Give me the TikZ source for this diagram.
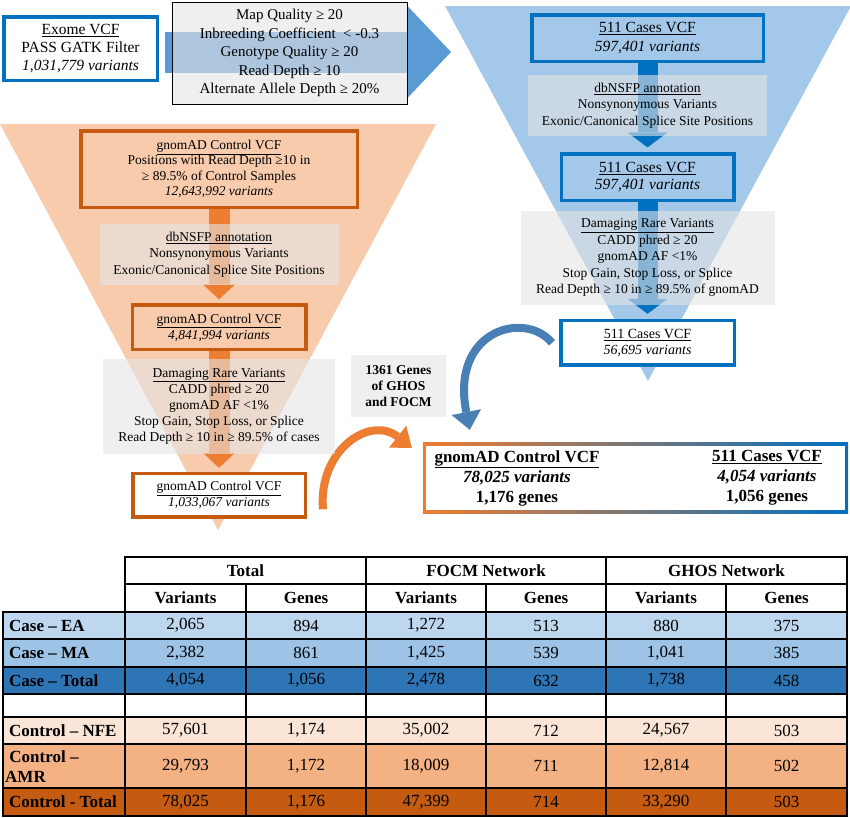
\documentclass[tikz,border=0pt]{standalone}
\usepackage{fontspec}
\setmainfont{Liberation Serif}
\usetikzlibrary{arrows.meta,backgrounds,positioning}
\pgfdeclarelayer{front}
\pgfsetlayers{background,main,front}

\definecolor{casefun}{RGB}{164,200,233}
\definecolor{ctrlfun}{RGB}{248,203,173}
\definecolor{caseline}{RGB}{0,112,192}
\definecolor{ctrlline}{RGB}{197,90,17}
\definecolor{ctrlarrow}{RGB}{237,125,49}
\definecolor{bigblue}{RGB}{91,155,213}
\definecolor{curveblue}{RGB}{72,128,182}
\definecolor{annogray}{RGB}{228,228,228}
\definecolor{midgray}{RGB}{128,122,122}
\definecolor{caseea}{RGB}{189,215,238}
\definecolor{casema}{RGB}{157,195,230}
\definecolor{casetot}{RGB}{46,117,182}
\definecolor{ctrlnfe}{RGB}{251,229,214}
\definecolor{ctrlamr}{RGB}{244,177,131}
\definecolor{ctrltot}{RGB}{197,90,17}

\tikzset{
  casebox/.style={draw=caseline,line width=3.5pt,align=center,inner sep=0pt},
  ctrlbox/.style={draw=ctrlline,line width=3.5pt,align=center,inner sep=0pt},
  annobox/.style={fill=annogray,fill opacity=0.6,text opacity=1,align=center,inner sep=0pt,
    font=\fontsize{13.5}{16.5}\selectfont},
  caseflow/.style={line width=20pt,draw=caseline,
    -{Triangle[length=15pt,width=40pt,line width=0pt]},shorten >=5pt},
  ctrlflow/.style={line width=21pt,draw=ctrlarrow,
    -{Triangle[length=15pt,width=32pt,line width=0pt]},shorten >=4pt},
  cell/.style={font=\fontsize{17}{20}\selectfont},
  headcell/.style={font=\fontsize{17}{20}\selectfont\bfseries},
  rowlbl/.style={anchor=west,align=left,inner sep=0pt,font=\fontsize{17}{20}\selectfont\bfseries},
  grid/.style={line width=1.8pt,line cap=rect}
}

\begin{document}
\begin{tikzpicture}[x=1pt,y=-1pt]
        \useasboundingbox (0,0) rectangle (850,817);
        \begin{scope}[on background layer]
          \fill[casefun] (445,6) -- (851,6) -- (648,381) -- cycle;
          \fill[ctrlfun] (0,124) -- (436,124) -- (218,530) -- cycle;
        \end{scope}

        \node[casebox,fill=white,minimum width=153.5pt,minimum height=63.5pt,
          font=\fontsize{15.5}{18}\selectfont] (exome) at (80.5,48.5)
          {\underline{Exome VCF}\\PASS GATK Filter\\\textit{1,031,779 variants}};
        \begin{pgfonlayer}{front}
        \node[draw=black,line width=0.8pt,fill=annogray,fill opacity=0.6,text opacity=1,
          align=center,minimum width=235pt,minimum height=102pt,inner sep=0pt,
          font=\fontsize{15}{18.5}\selectfont] (filters) at (289.5,53)
          {Map Quality ≥ 20\\Inbreeding Coefficient\ \ < -0.3\\Genotype Quality ≥ 20\\
           Read Depth ≥ 10\\Alternate Allele Depth ≥ 20\%};
        \end{pgfonlayer}
        \coordinate (bigtip) at (451,52);
        \draw[line width=41pt,draw=bigblue,shorten <=6pt,
          -{Triangle[length=44pt,width=93pt,line width=0pt]}] (exome.east |- bigtip) -- (bigtip);

        \node[casebox,minimum width=231.5pt,minimum height=46.5pt,
          font=\fontsize{15.5}{19}\selectfont] (cbox1) at (647.5,38)
          {\underline{511 Cases VCF}\\\textit{597,401 variants}};
        \begin{pgfonlayer}{front}
        \node[annobox,minimum width=239pt,minimum height=61pt,below = 12pt of cbox1] (cann1)
          {\underline{dbNSFP annotation}\\Nonsynonymous Variants\\Exonic/Canonical Splice Site Positions};
        \end{pgfonlayer}
        \node[casebox,minimum width=172.5pt,minimum height=46.5pt,below = 16pt of cann1,
          font=\fontsize{15.5}{17}\selectfont] (cbox2)
          {\underline{511 Cases VCF}\\\textit{597,401 variants}};
        \begin{pgfonlayer}{front}
        \node[annobox,minimum width=254pt,minimum height=94pt,below = 8pt of cbox2] (cann2)
          {\underline{Damaging Rare Variants}\\CADD phred ≥ 20\\gnomAD AF <1\%\\
           Stop Gain, Stop Loss, or Splice\\Read Depth ≥ 10 in ≥ 89.5\% of gnomAD};
        \end{pgfonlayer}
        \node[casebox,fill=white,minimum width=173.5pt,minimum height=44.5pt,below = 14pt of cann2,
          font=\fontsize{14}{16}\selectfont] (cbox3)
          {\underline{511 Cases VCF}\\\textit{56,695 variants}};
        \draw[caseflow] (cbox1) -- (cbox2);
        \draw[caseflow] (cbox2) -- (cbox3);

        \node[ctrlbox,minimum width=276.5pt,minimum height=76.5pt,
          font=\fontsize{13.5}{15.5}\selectfont] (obox1) at (219,169)
          {\underline{gnomAD Control VCF}\\Positions with Read Depth ≥10 in\\
           ≥ 89.5\% of Control Samples\\\textit{12,643,992 variants}};
        \begin{pgfonlayer}{front}
        \node[annobox,minimum width=239pt,minimum height=61pt,below = 15pt of obox1] (oann1)
          {\underline{dbNSFP annotation}\\Nonsynonymous Variants\\Exonic/Canonical Splice Site Positions};
        \end{pgfonlayer}
        \node[ctrlbox,minimum width=173.5pt,minimum height=44.5pt,below = 18pt of oann1,
          font=\fontsize{13.5}{16}\selectfont] (obox2)
          {\underline{gnomAD Control VCF}\\\textit{4,841,994 variants}};
        \begin{pgfonlayer}{front}
        \node[annobox,minimum width=232pt,minimum height=95pt,below = 7pt of obox2,
          font=\fontsize{13.5}{16}\selectfont] (oann2)
          {\underline{Damaging Rare Variants}\\CADD phred ≥ 20\\gnomAD AF <1\%\\
           Stop Gain, Stop Loss, or Splice\\Read Depth ≥ 10 in ≥ 89.5\% of cases};
        \end{pgfonlayer}
        \node[ctrlbox,fill=white,minimum width=172.5pt,minimum height=43.5pt,below = 18pt of oann2,
          font=\fontsize{13.5}{16}\selectfont] (obox3)
          {\underline{gnomAD Control VCF}\\\textit{1,033,067 variants}};
        \draw[ctrlflow] (obox1) -- (obox2);
        \draw[ctrlflow] (obox2) -- (obox3);

        \node[fill=annogray,fill opacity=0.6,text opacity=1,minimum width=95pt,minimum height=62pt,
          align=center,inner sep=0pt,font=\fontsize{13.5}{16.3}\selectfont\bfseries] (genes)
          at (398.5,386) {1361 Genes\\of GHOS\\and FOCM};

        \node[minimum width=425pt,minimum height=70pt,inner sep=0pt] (result) at (635.5,478) {};
        \shade[left color=ctrlarrow,middle color=midgray,right color=caseline]
          (result.north west) rectangle (result.south east);
        \fill[white] ([shift={(3,3)}]result.north west) rectangle ([shift={(-3,-3)}]result.south east);
        \node[align=center,font=\fontsize{17}{20}\selectfont\bfseries] (resctrl)
          at ([xshift=-118.5pt]result.center)
          {\underline{gnomAD Control VCF}\\\textit{78,025 variants}\\1,176 genes};
        \node[align=center,font=\fontsize{17}{20}\selectfont\bfseries] (rescase)
          at ([xshift=131.5pt]result.center)
          {\underline{511 Cases VCF}\\\textit{4,054 variants}\\1,056 genes};

        \draw[line width=8pt,draw=curveblue,-{Triangle[length=18pt,width=30pt,line width=0pt]}]
          ([xshift=-7pt]cbox3.west) .. controls (525,310) and (450,330) .. ([shift={(47,-13)}]result.north west);
        \draw[line width=8pt,draw=ctrlarrow,-{Triangle[length=18pt,width=28pt,line width=0pt]}]
          ([shift={(16,14)}]obox3.east) .. controls (318,450) and (370,415) .. ([shift={(-11,5)}]result.north west);

        \foreach \ya/\yb/\rc in {612/639/caseea,639/667/casema,667/694/casetot,
                                 717/744/ctrlnfe,744/788/ctrlamr,788/816/ctrltot}
          \fill[\rc] (3,\ya) rectangle (847,\yb);
        \foreach \gy in {612,639,667,694,717,744,788,816}
          \draw[grid] (3,\gy) -- (847,\gy);
        \draw[grid] (125,557) -- (847,557);
        \draw[grid] (125,584) -- (847,584);
        \draw[grid] (3,612) -- (3,816);
        \foreach \gx in {125,366,606,847}
          \draw[grid] (\gx,557) -- (\gx,816);
        \foreach \gx in {246,486,726}
          \draw[grid] (\gx,584) -- (\gx,816);

        \node[headcell] (htotal) at (245.5,570.5) {Total};
        \node[headcell] (hfocm) at (486,570.5) {FOCM Network};
        \node[headcell] (hghos) at (726.5,570.5) {GHOS Network};
        \foreach \cx/\cv [count=\ci] in {185.5/Variants,306/Genes,426/Variants,546/Genes,666/Variants,786.5/Genes}
          \node[headcell] (hd\ci) at (\cx,598) {\cv};

        \node[rowlbl] (ealbl) at (9,625.5) {Case – EA};
        \node[rowlbl] (malbl) at (9,653) {Case – MA};
        \node[rowlbl] (totlbl) at (9,680.5) {Case – Total};
        \node[rowlbl] (nfelbl) at (9,730.5) {Control – NFE};
        \node[rowlbl] (amrlbl) at (5,767) {\ Control –\\AMR};
        \node[rowlbl] (ctotlbl) at (9,802) {Control - Total};

        \foreach \cx/\cv [count=\ci] in {185.5/{2,065},306/894,426/{1,272},546/513,666/880,786.5/375}
          \node[cell] (ea\ci) at (\cx,625.5) {\cv};
        \foreach \cx/\cv [count=\ci] in {185.5/{2,382},306/861,426/{1,425},546/539,666/{1,041},786.5/385}
          \node[cell] (ma\ci) at (\cx,653) {\cv};
        \foreach \cx/\cv [count=\ci] in {185.5/{4,054},306/{1,056},426/{2,478},546/632,666/{1,738},786.5/458}
          \node[cell] (tot\ci) at (\cx,680.5) {\cv};
        \foreach \cx/\cv [count=\ci] in {185.5/{57,601},306/{1,174},426/{35,002},546/712,666/{24,567},786.5/503}
          \node[cell] (nfe\ci) at (\cx,730.5) {\cv};
        \foreach \cx/\cv [count=\ci] in {185.5/{29,793},306/{1,172},426/{18,009},546/711,666/{12,814},786.5/502}
          \node[cell] (amr\ci) at (\cx,766) {\cv};
        \foreach \cx/\cv [count=\ci] in {185.5/{78,025},306/{1,176},426/{47,399},546/714,666/{33,290},786.5/503}
          \node[cell] (ctot\ci) at (\cx,802) {\cv};
      \end{tikzpicture}
\end{document}
